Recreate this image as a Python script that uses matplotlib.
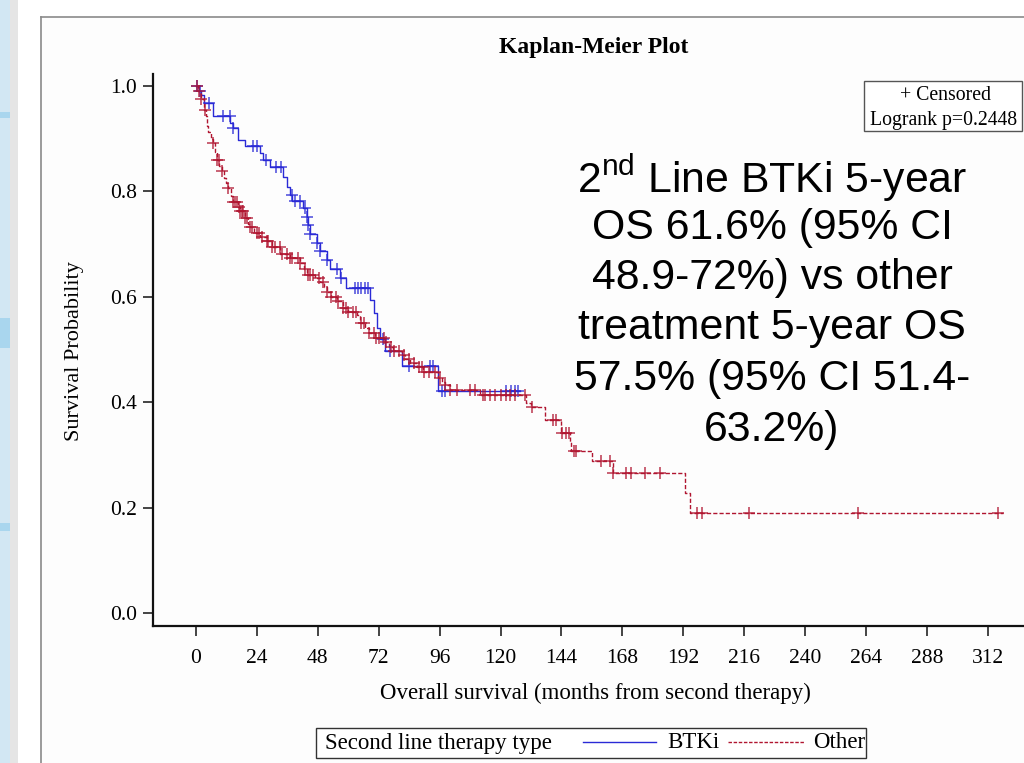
import numpy as np
import matplotlib
matplotlib.use("Agg")
import matplotlib.pyplot as plt
from matplotlib.patches import Rectangle
from matplotlib.lines import Line2D

plt.rcParams['mathtext.fontset'] = 'custom'
plt.rcParams['mathtext.rm'] = 'Liberation Sans'

# ---------------- data ----------------
btki_times = [0, 1, 2, 3, 6.6, 13.5, 14.5, 16.5, 19.3, 25.2, 26.5, 29.1, 34.3, 35.9, 37,
              37.8, 42.3, 43.6, 44.2, 44.9, 47.5, 48.8, 51.7, 52.8, 56.7, 59.1, 68.5, 70.2,
              71.5, 72.5, 74.4, 81.2, 95.4, 127.6]
btki_surv = [1.0, 0.99, 0.982, 0.967, 0.944, 0.930, 0.92, 0.897, 0.886, 0.872, 0.86, 0.846,
             0.827, 0.808, 0.793, 0.781, 0.768, 0.752, 0.736, 0.720, 0.702, 0.686, 0.670,
             0.653, 0.635, 0.616, 0.594, 0.569, 0.54, 0.52, 0.497, 0.469, 0.422, 0.422]
btki_cens = [0.5, 1.5, 5, 10.6, 13.4, 14.7, 22.5, 23.9, 27.6, 31.5, 33.3, 37.7, 39.0, 40.9,
             42.9, 43.6, 44.2, 44.9, 47.5, 48.8, 51.7, 55.4, 57, 62.6, 63.9, 65.2, 66.5, 67.8,
             73.5, 76.4, 83.9, 92.1, 93.4, 97, 98, 122.3, 124.3, 125.6, 127]

other_times = [0, 0.8, 2, 3, 3.9, 4.5, 4.9, 5.8, 6.8, 7.5, 8.1, 9.2, 10.1, 11, 12, 12.7, 13.8,
               14.7, 16.5, 17.3, 19.3, 20.5, 21.3, 23, 25.2, 27.8, 30, 33.1, 37, 40.9, 42.5,
               43.6, 47, 48.8, 50.5, 51.5, 53, 55.4, 58, 60, 63.3, 64.6, 66.5, 68, 70.5, 74.4,
               76, 77.7, 81, 82.5, 84.3, 87, 89.5, 95.4, 97, 98, 100, 112, 130.2, 131.8, 137.4,
               143.7, 147.2, 147.8, 156.2, 164.3, 192.5, 194.7, 318]
other_surv = [1.0, 0.99, 0.976, 0.955, 0.944, 0.925, 0.913, 0.9, 0.891, 0.875, 0.859, 0.848,
              0.838, 0.825, 0.815, 0.806, 0.792, 0.780, 0.771, 0.762, 0.749, 0.739, 0.733,
              0.722, 0.714, 0.705, 0.695, 0.682, 0.673, 0.664, 0.652, 0.641, 0.636, 0.628,
              0.618, 0.610, 0.600, 0.592, 0.578, 0.572, 0.566, 0.551, 0.540, 0.532, 0.521,
              0.514, 0.505, 0.497, 0.490, 0.482, 0.474, 0.466, 0.458, 0.446, 0.438, 0.432,
              0.424, 0.414, 0.398, 0.391, 0.367, 0.342, 0.324, 0.308, 0.289, 0.265, 0.227,
              0.189, 0.189]
other_cens = [0.5, 1, 2, 3.5, 6.8, 8.4, 9, 10.1, 12.7, 14.7, 15.5, 16, 17, 17.5, 18, 18.5,
              19.3, 20, 21.3, 22, 24, 25, 26, 27.8, 28.5, 30, 31, 33, 34, 36, 37, 38, 40, 41,
              43, 44, 45, 46, 48.5, 50, 51.5, 53, 55, 56, 58, 59, 60, 62, 63, 65, 66, 68, 70,
              71, 72, 74, 75, 77, 78, 80, 82, 84, 86, 88, 89, 90, 92, 94, 96, 98, 100, 103,
              108, 110, 113, 114, 116, 118, 120, 122, 123.6, 125.6, 129.5, 132.2, 140.7, 142,
              144.4, 145.7, 147, 148.8, 149.7, 159.7, 163, 164.3, 169.3, 171.3, 176.8, 182.7,
              197.5, 199.5, 217.7, 261, 315.9]

x_ticks = [0, 24, 48, 72, 96, 120, 144, 168, 192, 216, 240, 264, 288, 312]
y_ticks = [0.0, 0.2, 0.4, 0.6, 0.8, 1.0]

annot_lines = ["2$^{\\mathrm{nd}}$ Line BTKi 5-year", "OS 61.6% (95% CI", "48.9-72%) vs other",
               "treatment 5-year OS", "57.5% (95% CI 51.4-", "63.2%)"]

BLUE = '#2a2ad6'
RED = '#b01530'
SERIF = 'Liberation Serif'
SANS = 'Liberation Sans'

W, H = 1024, 763
fig = plt.figure(figsize=(W / 100, H / 100), dpi=100)


def fx(x):
    return x / W


def fy(y):
    return 1 - y / H


# background pieces (slide edge)
fig.patches.append(Rectangle((0, 0), fx(10), 1, transform=fig.transFigure,
                             facecolor='#d2e7f3', edgecolor='none', zorder=0))
fig.patches.append(Rectangle((fx(10), 0), fx(8), 1, transform=fig.transFigure,
                             facecolor='#e5e5e5', edgecolor='none', zorder=0))
for (y0, h) in [(112, 6), (318, 30), (523, 8)]:
    fig.patches.append(Rectangle((0, fy(y0 + h)), fx(10), h / H, transform=fig.transFigure,
                                 facecolor='#a9d6ee', edgecolor='none', zorder=0))
fig.patches.append(Rectangle((fx(41), 0), 1, fy(17), transform=fig.transFigure,
                             facecolor='#fdfdfd', edgecolor='none', zorder=0))
fig.lines.append(Line2D([fx(41), fx(41)], [0, fy(17)], transform=fig.transFigure,
                        color='#8a8a8a', lw=1.2))
fig.lines.append(Line2D([fx(41), 1], [fy(17), fy(17)], transform=fig.transFigure,
                        color='#8a8a8a', lw=1.2))

# axes
ax_left, ax_right, ax_top, ax_bottom = 153, 1024, 74, 626
ax = fig.add_axes([fx(ax_left), fy(ax_bottom), fx(ax_right - ax_left), (ax_bottom - ax_top) / H])
ax.set_zorder(3)
ax.set_facecolor('none')
pxm = 2.538
ax.set_xlim((ax_left - 196) / pxm, (ax_right - 196) / pxm)
ax.set_ylim((613 - ax_bottom) / 527, (613 - ax_top) / 527)
for s in ['top', 'right']:
    ax.spines[s].set_visible(False)
for s in ['left', 'bottom']:
    ax.spines[s].set_linewidth(1.6)
    ax.spines[s].set_color('#111111')

ax.set_xticks(x_ticks)
ax.set_xticklabels([str(t) for t in x_ticks])
ax.set_yticks(y_ticks)
ax.set_yticklabels([f"{v:.1f}" for v in y_ticks])
ax.tick_params(axis='both', direction='out', length=7.5, width=1.1, color='#111111',
               labelsize=15.5)
ax.tick_params(axis='x', pad=9)
ax.tick_params(axis='y', pad=4)
for lab in ax.get_xticklabels() + ax.get_yticklabels():
    lab.set_fontfamily(SERIF)

# curves
ax.step(btki_times, btki_surv, where='post', color=BLUE, lw=1.0, zorder=3)
ax.step(other_times, other_surv, where='post', color=RED, lw=1.0,
        linestyle=(0, (3, 1.5)), zorder=4)


def surv_at(times, surv, c):
    idx = np.searchsorted(np.array(times), np.array(c), side='right') - 1
    return np.array(surv)[idx]


ax.plot(btki_cens, surv_at(btki_times, btki_surv, btki_cens), linestyle='none', marker='+',
        markersize=9, mew=1.1, color=BLUE, alpha=0.85, zorder=5)
ax.plot(other_cens, surv_at(other_times, other_surv, other_cens), linestyle='none', marker='+',
        markersize=9, mew=1.1, color=RED, alpha=0.85, zorder=6)

# texts
fig.text(fx(594), fy(48), "Kaplan-Meier Plot", ha='center', va='center', fontsize=17,
         fontweight='bold', family=SERIF)
fig.text(fx(74), fy(351), "Survival Probability", ha='center', va='center', rotation=90,
         fontsize=16, family=SERIF)
fig.text(fx(595), fy(693), "Overall survival (months from second therapy)", ha='center',
         va='center', fontsize=16.5, family=SERIF)

# censored box
fig.patches.append(Rectangle((fx(864), fy(131)), fx(1022 - 864), (131 - 81) / H,
                             transform=fig.transFigure, facecolor='white',
                             edgecolor='#555555', lw=1.0, zorder=5))
fig.text(fx(945), fy(95), "+ Censored", ha='center', va='center', fontsize=14.2,
         family=SERIF, zorder=6)
fig.text(fx(944), fy(120), "Logrank p=0.2448", ha='center', va='center', fontsize=14.2,
         family=SERIF, zorder=6)

# annotation
ys = [178, 228, 278, 328, 379, 430]
for line, yy in zip(annot_lines, ys):
    fig.text(fx(772), fy(yy), line, ha='center', va='center', fontsize=30.8, family=SANS,
             zorder=7)

# bottom legend
fig.patches.append(Rectangle((fx(316), fy(758)), fx(866 - 316), (758 - 728) / H,
                             transform=fig.transFigure, facecolor='white',
                             edgecolor='#333333', lw=1.0, zorder=5))
fig.text(fx(325), fy(743), "Second line therapy type", ha='left', va='center', fontsize=16.5,
         family=SERIF, zorder=6)
fig.lines.append(Line2D([fx(583), fx(656)], [fy(742), fy(742)], transform=fig.transFigure,
                        color=BLUE, lw=1.0, zorder=6))
fig.text(fx(667), fy(743), "BTKi", ha='left', va='center', fontsize=16.5, family=SERIF, zorder=6)
fig.lines.append(Line2D([fx(728), fx(805)], [fy(742), fy(742)], transform=fig.transFigure,
                        color=RED, lw=1.0, linestyle=(0, (2.5, 1.2)), zorder=6))
fig.text(fx(813), fy(743), "Other", ha='left', va='center', fontsize=16.5, family=SERIF, zorder=6)

fig.savefig("out.png", dpi=100)
